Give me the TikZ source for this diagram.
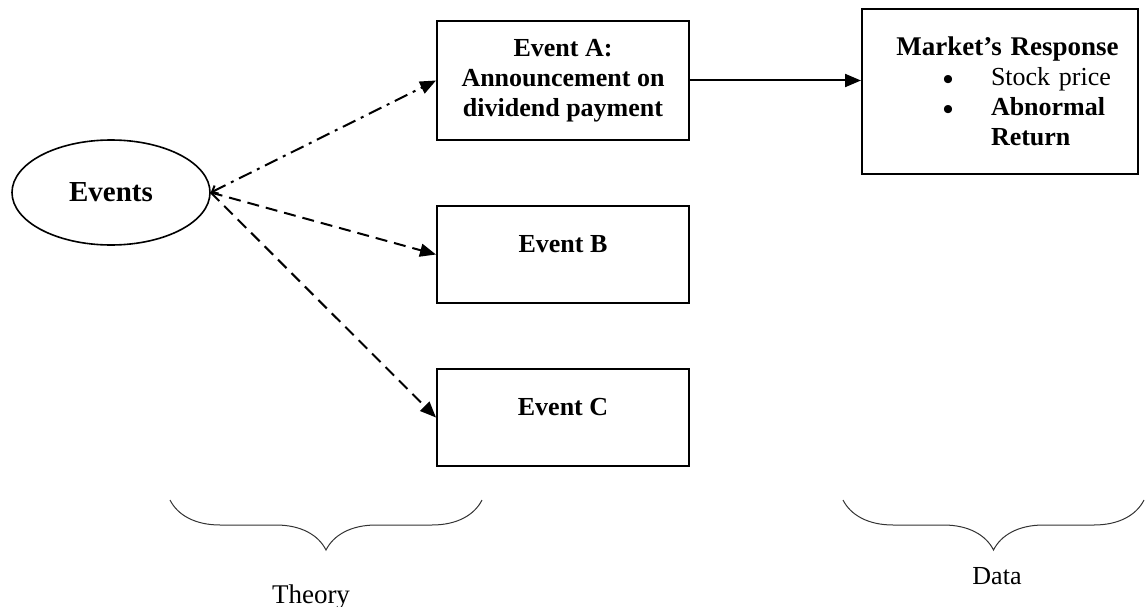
\documentclass[tikz,border=0pt]{standalone}
\usepackage{fontspec}
\setmainfont{Liberation Serif}
\usetikzlibrary{positioning,shapes.geometric,arrows.meta,decorations.pathreplacing}

\newcommand{\mktbullet}{\makebox[0pt]{\smash{\raisebox{-4pt}{\fontsize{30}{30}\selectfont\textbullet}}}}

\begin{document}
\begin{tikzpicture}[x=1pt,y=-1pt,
    node distance=64pt and 173pt,
    font=\fontsize{26}{30}\selectfont,
    roundnode/.style={ellipse, draw=black, line width=1.6pt, minimum width=198pt, minimum height=105pt, inner sep=0pt, font=\fontsize{29}{33}\selectfont\bfseries},
    squarednode/.style={rectangle, draw=black, line width=2pt, minimum width=252pt, inner sep=4pt, align=center, font=\fontsize{26}{30}\selectfont\bfseries},
    dashline/.style={dash pattern=on 12pt off 7pt, line width=2pt},
    dashdotline/.style={dash pattern=on 14pt off 6pt on 3pt off 6pt, line width=2pt},
    tip/.style={-{Triangle[length=16pt,width=13pt]}},
    bracestyle/.style={decorate, decoration={brace, mirror, amplitude=50pt}, line width=1pt, draw=black!80},
]
\useasboundingbox (0,0) rectangle (1145,607);

%Nodes
\node[roundnode] (events) at (111,192.5) {Events};
\node[squarednode, minimum height=119pt] (evA) at (563,80.5) {Event A:\\Announcement on\\dividend payment};
\node[squarednode, minimum height=97pt, text depth=22pt] (evB) [below=of evA] {Event B};
\node[squarednode, minimum height=97pt, text depth=22pt] (evC) [below=of evB] {Event C};

\node[squarednode, minimum width=276pt, minimum height=165pt, text width=260pt, align=left] (mkt) at (1000,91.5)
  {\makebox[260pt]{\hspace{15pt}\fontsize{27}{30}\selectfont Market’s Response}\\
   \hspace*{78pt}\mktbullet\hspace{43pt}{\mdseries Stock price}\\
   \hspace*{78pt}\mktbullet\hspace{43pt}Abnormal\\
   \hspace*{121pt}Return};

%Lines
\draw[dashdotline, {Straight Barb[length=5pt,width=9pt]}-{Triangle[length=16pt,width=13pt]}] (events.east) -- (evA.west);
\draw[dashline, tip] (events.east) -- (evB.west);
\draw[dashline, tip] (events.east) -- (evC.west);
\draw[line width=2pt, tip] (evA.east) -- (evA.east -| mkt.west);

%Braces
\coordinate (thL) at (170,500);
\coordinate (thR) at (482,500);
\coordinate (daL) at (843,500);
\coordinate (daR) at (1144,500);
\draw[bracestyle] (thL) -- (thR);
\draw[bracestyle] (daL) -- (daR);

\node[font=\fontsize{27}{30}\selectfont] (theory) at (311,597) {Theory};
\node (data) at (997,576) {Data};
\end{tikzpicture}
\end{document}
